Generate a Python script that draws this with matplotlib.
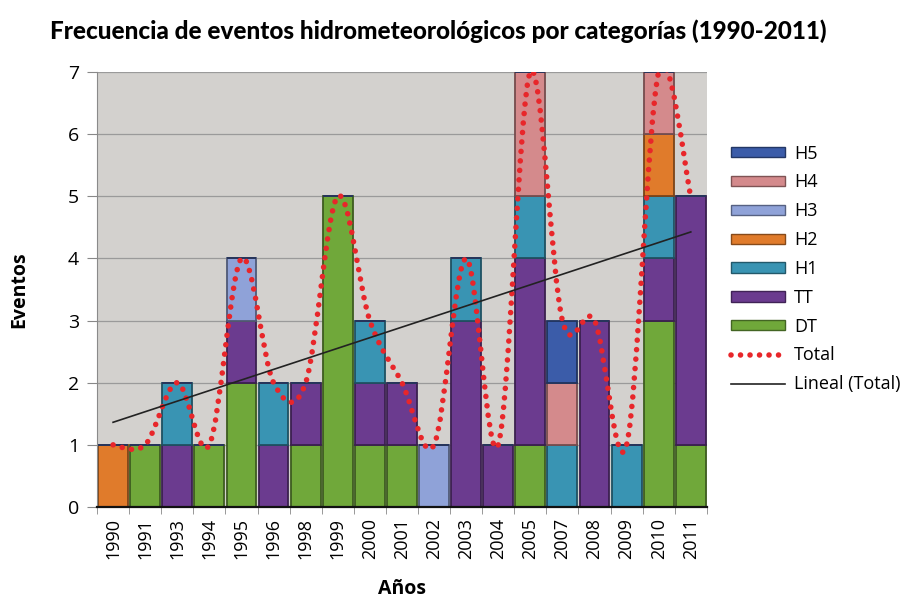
import numpy as np
import matplotlib
matplotlib.use("Agg")
import matplotlib.pyplot as plt
from matplotlib.path import Path
from matplotlib.patches import PathPatch, Patch
from matplotlib.lines import Line2D
import matplotlib.colors as mcolors

# datos
anios = ["1990", "1991", "1993", "1994", "1995", "1996", "1998", "1999", "2000", "2001",
         "2002", "2003", "2004", "2005", "2007", "2008", "2009", "2010", "2011"]
DT = [0, 1, 0, 1, 2, 0, 1, 5, 1, 1, 0, 0, 0, 1, 0, 0, 0, 3, 1]
TT = [0, 0, 1, 0, 1, 1, 1, 0, 1, 1, 0, 3, 1, 3, 0, 3, 0, 1, 4]
H1 = [0, 0, 1, 0, 0, 1, 0, 0, 1, 0, 0, 1, 0, 1, 1, 0, 1, 1, 0]
H2 = [1, 0, 0, 0, 0, 0, 0, 0, 0, 0, 0, 0, 0, 0, 0, 0, 0, 1, 0]
H3 = [0, 0, 0, 0, 1, 0, 0, 0, 0, 0, 1, 0, 0, 0, 0, 0, 0, 0, 0]
H4 = [0, 0, 0, 0, 0, 0, 0, 0, 0, 0, 0, 0, 0, 2, 1, 0, 0, 1, 0]
H5 = [0, 0, 0, 0, 0, 0, 0, 0, 0, 0, 0, 0, 0, 0, 1, 0, 0, 0, 0]

series = [("DT", DT, "#70a83a"), ("TT", TT, "#6b3b8f"), ("H1", H1, "#3994b3"),
          ("H2", H2, "#e07b2b"), ("H3", H3, "#8fa2d8"), ("H4", H4, "#d48a8c"),
          ("H5", H5, "#3b5ca9")]

plt.rcParams['font.family'] = ['Open Sans', 'DejaVu Sans']

fig = plt.figure(figsize=(9.24, 6), dpi=100)
ax = fig.add_axes([0.105, 0.155, 0.66, 0.725])
ax.set_facecolor("#d3d1ce")

x = np.arange(len(anios))
base = np.zeros(len(anios))
for nombre, vals, col in series:
    vals = np.array(vals, dtype=float)
    oscuro = tuple(np.array(mcolors.to_rgb(col)) * 0.55)
    ax.bar(x, vals, 0.93, bottom=base, color=col, edgecolor=oscuro, linewidth=1.3, zorder=2)
    base += vals
total = base

# linea suavizada (estilo Excel)
pts = np.column_stack([x, total])
ext = np.vstack([pts[0], pts, pts[-1]])
verts = [tuple(pts[0])]
codes = [Path.MOVETO]
for i in range(len(pts) - 1):
    p0, p1, p2, p3 = ext[i], ext[i + 1], ext[i + 2], ext[i + 3]
    c1 = p1 + (p2 - p0) / 6
    c2 = p2 - (p3 - p1) / 6
    verts += [tuple(c1), tuple(c2), tuple(p2)]
    codes += [Path.CURVE4] * 3
ax.add_patch(PathPatch(Path(verts, codes), fill=False, edgecolor="#e8262a", lw=4.0,
                       linestyle=(0, (0.01, 1.7)), capstyle="round", zorder=4))

# tendencia lineal
m, b = np.polyfit(x, total, 1)
ax.plot(x, m * x + b, color="#222222", lw=1.2, zorder=5)

ax.set_xlim(-0.5, len(anios) - 0.5)
ax.set_ylim(0, 7)
ax.set_yticks(range(8))
ax.yaxis.grid(True, color="#9a9a9a", lw=0.9, zorder=1)
ax.set_axisbelow(True)
ax.set_xticks(x)
ax.set_xticklabels(anios, rotation=90, fontsize=13)
ax.set_xticks(np.arange(-0.5, len(anios)), minor=True)
ax.tick_params(axis="x", which="major", length=0, pad=8)
ax.tick_params(axis="x", which="minor", length=5, color="#888888")
ax.tick_params(axis="y", labelsize=14, length=7, color="#888888", pad=6)
for s in ["top", "right"]:
    ax.spines[s].set_visible(False)
ax.spines["left"].set_color("#8a8a8a")
ax.spines["bottom"].set_color("#111111")
ax.spines["bottom"].set_linewidth(1.6)

ax.set_ylabel("Eventos", fontsize=14, fontweight="bold", labelpad=28)
ax.set_xlabel("Años", fontsize=14, fontweight="bold", labelpad=14)

fig.text(0.474, 0.948, "Frecuencia de eventos hidrometeorológicos por categorías (1990-2011)",
         ha="center", va="center", fontsize=17.5, fontweight=900,
         family=["Lato", "DejaVu Sans"])

handles = [Patch(facecolor=c, edgecolor=tuple(np.array(mcolors.to_rgb(c)) * 0.6), lw=1.0)
           for _, _, c in series[::-1]]
labels = [n for n, _, _ in series[::-1]]
handles += [Line2D([], [], color="#e8262a", lw=4.0, linestyle=(0, (0.01, 1.7)),
                   dash_capstyle="round"),
            Line2D([], [], color="#222222", lw=1.2)]
labels += ["Total", "Lineal (Total)"]
fig.legend(handles, labels, loc="upper left", bbox_to_anchor=(0.783, 0.771), frameon=False,
           fontsize=13, handlelength=3.0, handleheight=0.5, labelspacing=0.6,
           handletextpad=0.5, borderaxespad=0)

fig.savefig("out.png", dpi=100)
